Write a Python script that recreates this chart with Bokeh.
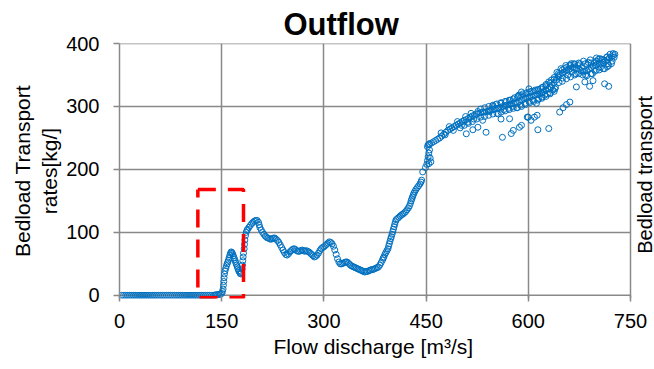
import math
from bokeh.plotting import figure
from bokeh.models import Range1d, FixedTicker, Title
from bokeh.core.properties import value
from bokeh.embed import file_html
from bokeh.resources import INLINE

# ---------------- data ----------------
x_ticks = [0, 150, 300, 450, 600, 750]
y_ticks = [0, 100, 200, 300, 400]

# flat part (no transport)
flat_q = [3, 6, 9, 12, 15, 18, 21, 24, 27, 30, 33, 36, 39, 42, 45, 48, 51, 54, 57, 60,
          63, 66, 69, 72, 75, 78, 81, 84, 87, 90, 93, 96, 99, 102, 105, 108, 111, 114,
          117, 120, 123, 126, 129, 132, 135, 138]
flat_t = [0] * len(flat_q)

# rising / hysteresis part
curve_q = [140, 142, 144, 146, 148, 150, 151, 152, 152.5, 153, 153.5, 154, 155, 156, 157,
           158, 159, 160, 161, 162, 163, 164, 165, 166, 167, 168, 169, 170, 171, 172, 173,
           174, 175, 176, 177, 178, 179, 180, 180.5, 181, 181.5, 182, 183, 183.5, 184, 185,
           186, 187, 188, 190, 192, 194, 196, 198, 200, 202, 204, 205, 206, 208, 210, 212,
           214, 216, 218, 220, 222, 224, 226, 228, 230, 232, 234, 236, 238, 240, 242, 244,
           246, 248, 250, 252, 254, 256, 258, 260, 262, 264, 266, 268, 270, 272, 274, 276,
           278, 280, 282, 284, 286, 288, 290, 292, 294, 296, 298, 300, 302, 304, 306, 308,
           310, 312, 314, 316, 318, 320, 322, 324, 326, 328, 330, 332, 334, 336, 338, 340,
           342, 344, 346, 348, 350, 352, 354, 356, 358, 360, 362, 364, 366, 368, 370, 372,
           374, 376, 378, 380, 382, 384, 386, 387, 388, 389.5, 391, 392.5, 394, 395, 396,
           397, 398, 399, 400, 401, 402, 403, 404, 405, 406, 408, 410, 412, 414, 416, 418,
           420, 422, 424, 425.5, 427, 428, 429, 430, 431, 432, 433.5, 435, 437, 439, 441,
           442.5, 443.5, 445, 449, 451, 452, 453, 454, 455, 452, 453, 455, 457, 456, 454]
curve_t = [0.5, 1, 1, 1.5, 2, 3, 6, 10, 16, 22, 28, 34, 39, 43, 47,
           50, 53, 56, 60, 64, 67, 69, 68, 66, 63, 60, 57, 54, 51, 48, 45,
           42, 39, 37, 35, 34, 36, 42, 48, 55, 61, 67, 74, 81, 88, 95,
           100, 103, 105, 108, 111, 114, 116, 118, 119, 119, 116, 112, 108, 104, 100, 97,
           94, 92, 91, 90, 89, 90, 91, 91, 89, 87, 84, 80, 76, 72, 68, 65,
           64, 66, 69, 71, 73, 74, 73, 71, 70, 70, 71, 72, 71, 70, 71, 70,
           69, 67, 65, 63, 61, 62, 64, 67, 71, 74, 76, 77, 79, 81, 83, 85,
           84, 82, 78, 72, 65, 58, 53, 50, 50, 51, 52, 53, 53, 51, 49, 47,
           46, 45, 44, 43, 42, 41, 40, 39, 38, 37, 38, 38, 39, 40, 41, 41,
           42, 43, 44, 45, 48, 52, 56, 59, 61, 65, 68, 71, 74, 78, 82,
           86, 90, 93, 97, 101, 105, 109, 113, 117, 120, 122, 124, 126, 128, 129, 131,
           133, 136, 139, 142, 146, 150, 153, 156, 159, 162, 165, 168, 171, 174, 177,
           180, 183, 196, 203, 208, 214, 220, 226, 231, 236, 239, 241, 212, 218, 209]

# upper band (main line)
band_q = [455, 458, 461, 464, 467, 470, 473, 476, 479, 482, 485, 488, 491, 494, 497, 500,
          503, 506, 509, 512, 515, 518, 521, 524, 527, 530, 533, 536, 539, 542, 545, 548,
          551, 554, 557, 560, 563, 566, 569, 572, 575, 578, 581, 584, 587, 590, 593, 596,
          599, 602, 605, 608, 611, 614, 617, 620, 623, 626, 629, 632, 635, 638, 641, 644,
          647, 650, 653, 656, 659, 662, 665, 668, 671, 674, 677, 680, 683, 686, 689, 692,
          695, 698, 701, 704, 707, 710, 713, 716, 719, 722, 725, 727]
band_t = [240, 242, 244, 246, 248, 250, 253, 256, 259, 262, 264, 266, 268, 270, 272, 274,
          276, 278, 279, 281, 283, 285, 286, 288, 289, 290, 291, 291, 292, 293, 294, 295,
          296, 297, 298, 299, 300, 301, 302, 303, 304, 305, 306, 306, 308, 310, 312, 313,
          314, 315, 316, 317, 318, 319, 320, 322, 324, 326, 328, 331, 334, 338, 342, 347,
          351, 353, 355, 357, 358, 360, 362, 361, 360, 359, 357, 356, 356, 357, 359, 362,
          364, 365, 367, 368, 369, 370, 372, 374, 377, 379, 381, 383]

# lower and upper edges of the band
edge_q = [500, 506, 512, 518, 524, 530, 536, 542, 548, 554, 560, 566, 572, 578, 584, 590,
          596, 602, 608, 614, 620, 626, 632, 638,
          530, 536, 542, 548, 554, 560, 566, 572, 578, 584, 590, 596, 602, 608, 614, 620,
          626, 632, 638, 644, 650, 656, 662, 668, 676, 684, 692, 700, 708, 716,
          650, 656, 662, 668, 674, 680, 686, 692, 698, 704, 710, 716, 722]
edge_t = [266, 270, 273, 276, 280, 283, 284, 286, 288, 289, 291, 293, 295, 297, 298, 300,
          303, 306, 308, 310, 313, 316, 320, 324,
          296, 298, 300, 302, 304, 306, 308, 310, 312, 314, 317, 320, 322, 324, 327, 330,
          333, 337, 343, 352, 358, 362, 365, 367, 368, 368, 369, 372, 375, 379,
          340, 344, 347, 350, 352, 350, 349, 352, 356, 358, 360, 363, 368]

# scatter around the band
scatter_q = [472, 478, 484, 490, 496, 502, 508, 511, 516, 520,
             509, 518.6, 526, 533, 538, 562, 575, 578, 587, 590, 598.5, 600, 604, 609, 613,
             614, 630, 646, 651, 656, 661, 670.6, 683, 690, 695, 712, 718,
             526, 543, 560, 572.5, 585, 590, 601, 614, 639, 644, 653, 663, 673, 688, 700,
             705, 717, 724.5, 726,
             548, 552, 556, 560, 564, 568, 571, 574, 577, 580, 583, 586, 589, 592, 595, 598,
             601, 604, 607, 610, 612, 615, 618, 620, 622, 624, 626, 628, 630, 632, 634, 636,
             638, 640, 642, 645, 648, 650, 655, 658, 661, 664, 667, 670, 674, 678, 681, 684,
             687, 691, 694, 697, 700, 703, 706, 709, 712, 715, 718, 720, 723]
scatter_t = [258, 255, 268, 262, 276, 270, 284, 275, 289, 280,
             256.6, 263, 267, 278, 259, 251, 257, 262, 267, 270, 283, 283, 278, 283, 286,
             263, 265, 291, 298, 303, 307, 331, 339, 332, 341, 336, 332,
             292, 292, 280, 280.5, 316, 323, 328, 325, 328, 349, 360, 368, 365, 370, 377,
             376, 368, 384, 378,
             300, 303, 288, 305, 295, 308, 297, 310, 300, 314, 298, 318, 302, 320, 305, 322,
             308, 324, 310, 326, 305, 312, 328, 315, 331, 318, 335, 320, 339, 322, 342, 326,
             346, 330, 354, 338, 360, 345, 365, 350, 366, 355, 368, 352, 369, 362, 372, 350,
             366, 374, 352, 370, 358, 375, 362, 373, 360, 378, 365, 383, 372]

discharge = flat_q + curve_q + band_q + edge_q + scatter_q
transport = flat_t + curve_t + band_t + edge_t + scatter_t

# highlighted window (dashed red box)
box_q = [115, 182]
box_t = [-4, 168]

title_text = "Outflow"
x_label = "Flow discharge [m\u00b3/s]"
y_label = "Bedload Transport\nrates[kg/]"
right_label = "Bedload  transport"

# ---------------- figure ----------------
FONT = "Liberation Sans"
GRID = "#898989"
BLUE = "#0070C0"

X_MAX = x_ticks[-1]
# the frame runs to the page edge (the strip beyond 750 holds the neighbouring axis title)
VIEW_MAX = X_MAX * 535 / 511

p = figure(width=654, height=369, output_backend="svg", toolbar_location=None,
           x_range=Range1d(0, VIEW_MAX), y_range=Range1d(-5, 400),
           min_border_left=119, min_border_right=0, min_border_top=43,
           min_border_bottom=71)
p.background_fill_color = "white"
p.border_fill_color = "white"
p.outline_line_color = None

p.title.text = title_text
p.title.text_font = FONT
p.title.text_font_size = "31px"
p.title.text_font_style = "bold"
p.title.text_color = "black"
p.title.align = "left"
p.title.offset = 164
p.title.standoff = 3

# vertical grid from the ticker, horizontal grid limited to the 0..750 span
p.xgrid.ticker = FixedTicker(ticks=x_ticks)
p.xgrid.grid_line_color = GRID
p.xgrid.grid_line_width = 1.5
p.ygrid.visible = False
p.segment(x0=[0] * len(y_ticks), x1=[X_MAX] * len(y_ticks), y0=y_ticks, y1=y_ticks,
          line_color=GRID, line_width=1.5)

# x axis
p.xaxis.ticker = FixedTicker(ticks=x_ticks)
p.xaxis.axis_line_color = None
p.xaxis.major_tick_line_color = GRID
p.xaxis.major_tick_line_width = 1.5
p.xaxis.major_tick_in = 3
p.xaxis.major_tick_out = 3
p.xaxis.minor_tick_line_color = None
p.xaxis.major_label_standoff = 12

# y axis
p.yaxis.ticker = FixedTicker(ticks=y_ticks)
p.yaxis.axis_line_color = GRID
p.yaxis.axis_line_width = 1.5
p.yaxis.major_tick_line_color = GRID
p.yaxis.major_tick_line_width = 1.5
p.yaxis.major_tick_in = 0
p.yaxis.major_tick_out = 6
p.yaxis.minor_tick_line_color = None
p.yaxis.major_label_standoff = 14
p.yaxis.axis_label = y_label
p.yaxis.axis_label_standoff = 2

for ax in (p.xaxis, p.yaxis):
    ax.major_label_text_font = FONT
    ax.major_label_text_font_size = "20px"
    ax.major_label_text_color = "black"
    ax.axis_label_text_font = FONT
    ax.axis_label_text_font_size = "21px"
    ax.axis_label_text_font_style = "normal"
    ax.axis_label_text_color = "black"

# x axis title, centred under the 0..750 span
p.add_layout(Title(text=x_label, align="left", offset=154, vertical_align="top",
                   standoff=8, text_font=FONT, text_font_size="21px",
                   text_font_style="normal", text_color="black"), "below")

p.scatter(discharge, transport, marker="circle", size=6, line_color=BLUE,
          line_width=1, fill_color=None)

p.line([box_q[0], box_q[1], box_q[1], box_q[0], box_q[0]],
       [box_t[1], box_t[1], box_t[0], box_t[0], box_t[1]],
       line_color="#FF0000", line_width=3.5, line_dash="18 12")

# neighbouring chart's axis title, reading bottom to top at the right edge
p.text(x=[771], y=[66], text=[right_label], angle=math.pi / 2,
       text_font=value(FONT), text_font_size="20px", text_color="black",
       text_align="left", text_baseline="alphabetic")

open("out.html", "w").write(file_html(p, INLINE))
